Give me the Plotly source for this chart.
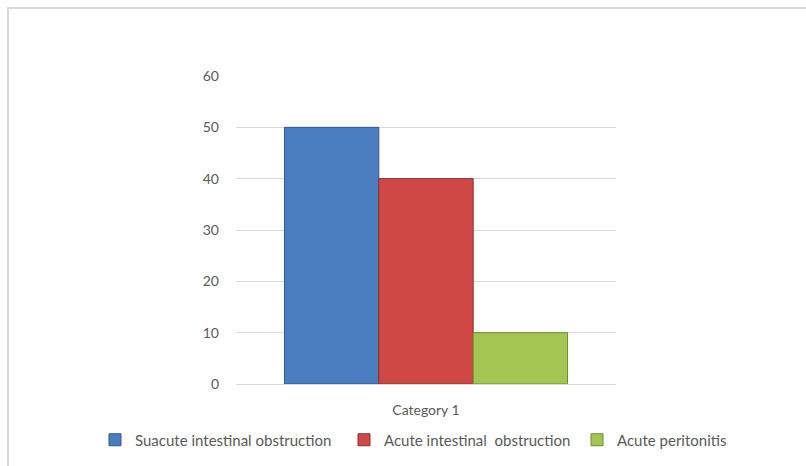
import plotly.graph_objects as go

categories = ["Category 1"]
series_names = ["Suacute intestinal obstruction", "Acute intestinal  obstruction", "Acute peritonitis"]
series_values = [[50], [40], [10]]
series_colors = ["#4A7CC0", "#D04846", "#A3C652"]
edge_colors = ["#2F5A8E", "#8E2E2C", "#6F8C32"]
y_ticks = [0, 10, 20, 30, 40, 50, 60]

W, H = 806, 466
L, R, T, B = 236, 190, 76, 82
pw, ph = W - L - R, H - T - B

def px_x(x):
    return (x - L) / pw

def px_y(y):
    return (H - B - y) / ph

legend_ids = ["legend", "legend2", "legend3"]
legend_left_px = [95, 344, 577]

fig = go.Figure()
for name, vals, col, ec, lid in zip(series_names, series_values, series_colors, edge_colors, legend_ids):
    fig.add_trace(go.Bar(
        x=categories, y=vals, name=name, legend=lid,
        marker=dict(color=col, line=dict(color=ec, width=1)),
    ))

legend_style = dict(orientation="h", xanchor="left", yanchor="middle", y=px_y(440),
                    font=dict(size=15, color="#595959"), itemwidth=30,
                    bgcolor="rgba(0,0,0,0)")

fig.update_layout(
    width=W, height=H,
    margin=dict(l=L, r=R, t=T, b=B, autoexpand=False),
    paper_bgcolor="white", plot_bgcolor="white",
    barmode="group", bargap=0.255, bargroupgap=0,
    font=dict(family="Lato, Carlito, Calibri, sans-serif", color="#595959", size=13),
    showlegend=True,
    legend=dict(x=px_x(legend_left_px[0]), **legend_style),
    legend2=dict(x=px_x(legend_left_px[1]), **legend_style),
    legend3=dict(x=px_x(legend_left_px[2]), **legend_style),
    xaxis=dict(showgrid=False, showline=False, ticks="", ticklabelstandoff=16,
               tickfont=dict(size=14, color="#595959")),
    yaxis=dict(range=[0, 60], tickvals=y_ticks, showgrid=True, gridcolor="#D9D9D9", gridwidth=1,
               zeroline=True, zerolinecolor="#D9D9D9", zerolinewidth=1, showline=False,
               ticks="", ticklabelstandoff=16, tickfont=dict(size=14, color="#595959")),
    shapes=[dict(type="rect", xref="paper", yref="paper",
                 x0=px_x(8), x1=px_x(840), y0=px_y(500), y1=px_y(8),
                 line=dict(color="#D9D9D9", width=2), layer="below")],
)

fig.write_html("out.html")
